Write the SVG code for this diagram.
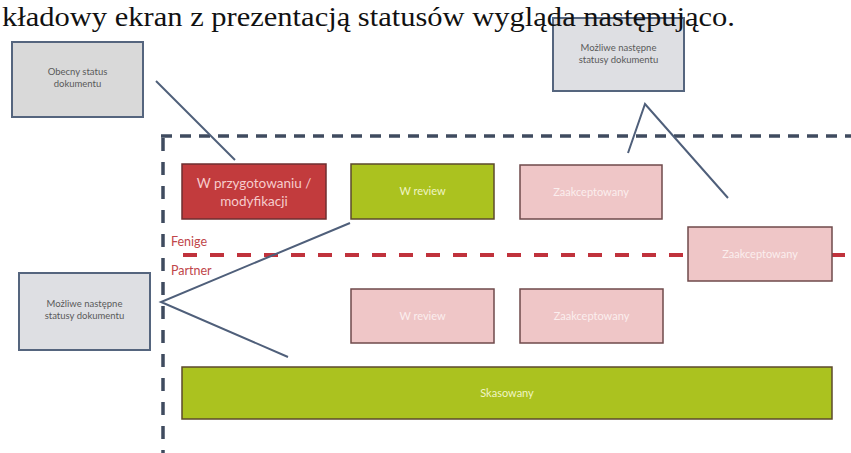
<svg xmlns="http://www.w3.org/2000/svg" width="851" height="453" viewBox="0 0 851 453">
<style>
.note{fill:#d9d9d9;stroke:#55657e;stroke-width:2}
.note2{fill:#dedfe3;stroke:#55657e;stroke-width:2}
.notet{font-family:Lato,"Liberation Sans",sans-serif;font-size:9.5px;fill:#5a5a5a;text-anchor:middle}
.red{fill:#c23b3d;stroke:#6e2f30;stroke-width:1.5}
.green{fill:#abc21f;stroke:#5c4a2c;stroke-width:1.5}
.pink{fill:#efc6c7;stroke:#6f4a4b;stroke-width:1.5}
.bt{font-family:Lato,"Liberation Sans",sans-serif;text-anchor:middle}
.rt{font-size:13.5px;fill:#f6cccc}
.gt{font-size:11px;fill:#f0f5c4}
.pt{font-size:11px;fill:#fbeeee}
.conn{stroke:#4f5f7a;stroke-width:2;fill:none}
.lane{font-family:Lato,"Liberation Sans",sans-serif;font-size:12.5px;fill:#c0464a}
</style>
<rect width="851" height="453" fill="#ffffff"/>

<g id="lanes">
<path d="M161 136 H851" stroke="#3f4b5f" stroke-width="3.5" stroke-dasharray="11 8" fill="none"/>
<path d="M163 138 V453" stroke="#3f4b5f" stroke-width="3.5" stroke-dasharray="13 11" fill="none"/>
<path d="M183 255 H851" stroke="#c0323c" stroke-width="4" stroke-dasharray="14 13" fill="none"/>
<text class="lane" x="171" y="246">Fenige</text>
<text class="lane" x="171" y="275">Partner</text>
</g>

<g id="connectors">
<line class="conn" x1="156" y1="81" x2="235" y2="160"/>
<polyline class="conn" points="628,153 645,104 728,198"/>
<polyline class="conn" points="350,223 161,302 288,357"/>
</g>

<g id="note-current">
<rect class="note" x="12" y="42" width="131" height="75"/>
<text class="notet" x="77.5" y="75">Obecny status</text>
<text class="notet" x="77.5" y="87">dokumentu</text>
</g>
<g id="note-next-top">
<rect class="note2" x="553" y="18" width="131" height="73"/>
<text class="notet" x="618.5" y="51">Możliwe następne</text>
<text class="notet" x="618.5" y="63">statusy dokumentu</text>
</g>
<g id="note-next-left">
<rect class="note2" x="19" y="273" width="131" height="77"/>
<text class="notet" x="84.5" y="307">Możliwe następne</text>
<text class="notet" x="84.5" y="319">statusy dokumentu</text>
</g>

<g id="s-przygotowanie">
<rect class="red" x="182" y="164" width="144" height="55"/>
<text class="bt rt" x="254" y="188">W przygotowaniu /</text>
<text class="bt rt" x="254" y="206">modyfikacji</text>
</g>
<g id="s-review-fenige">
<rect class="green" x="351" y="164" width="143" height="55"/>
<text class="bt gt" x="422.5" y="195">W review</text>
</g>
<g id="s-zaakceptowany-fenige">
<rect class="pink" x="520" y="165" width="142" height="54"/>
<text class="bt pt" x="591" y="196">Zaakceptowany</text>
</g>
<g id="s-zaakceptowany-mid">
<rect class="pink" x="688" y="227" width="144" height="54"/>
<text class="bt pt" x="760" y="258">Zaakceptowany</text>
</g>
<g id="s-review-partner">
<rect class="pink" x="351" y="289" width="143" height="54"/>
<text class="bt pt" x="422.5" y="320">W review</text>
</g>
<g id="s-zaakceptowany-partner">
<rect class="pink" x="520" y="289" width="143" height="54"/>
<text class="bt pt" x="591.5" y="320">Zaakceptowany</text>
</g>
<g id="s-skasowany">
<rect class="green" x="182" y="367" width="650" height="52"/>
<text class="bt gt" x="507" y="397">Skasowany</text>
</g>

<text x="2" y="26" font-family="'Liberation Serif','DejaVu Serif',serif" font-size="28" fill="#111" textLength="733" lengthAdjust="spacingAndGlyphs">kładowy ekran z prezentacją statusów wygląda następująco.</text>
</svg>
